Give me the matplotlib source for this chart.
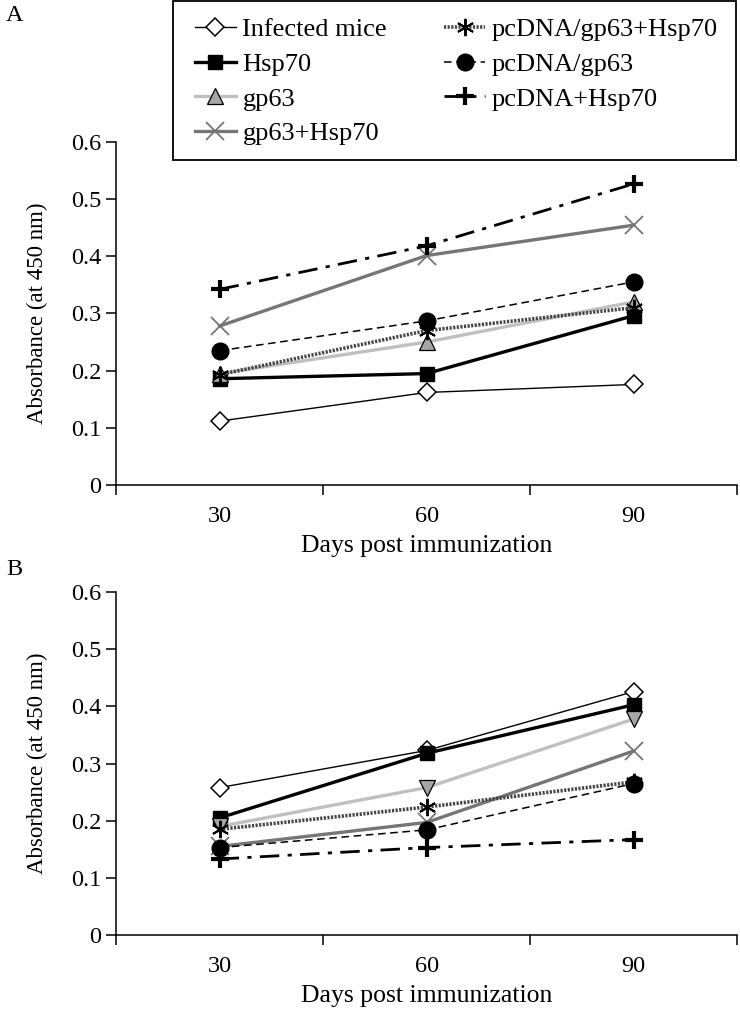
import matplotlib
matplotlib.use("Agg")
import matplotlib.pyplot as plt
from matplotlib.patches import Rectangle

plt.rcParams['font.family'] = ['Liberation Serif', 'DejaVu Serif']

days = ['30', '60', '90']
series_names = ['Infected mice', 'Hsp70', 'gp63', 'gp63+Hsp70',
                'pcDNA/gp63+Hsp70', 'pcDNA/gp63', 'pcDNA+Hsp70']

# panel A values (absorbance at 450 nm)
a_infected = [0.112, 0.162, 0.176]
a_hsp70 = [0.186, 0.195, 0.296]
a_gp63 = [0.195, 0.250, 0.320]
a_gp63_hsp70 = [0.278, 0.401, 0.454]
a_pc_gp63_hsp70 = [0.193, 0.270, 0.310]
a_pc_gp63 = [0.235, 0.287, 0.355]
a_pc_hsp70 = [0.342, 0.418, 0.526]

# panel B values
b_infected = [0.258, 0.323, 0.426]
b_hsp70 = [0.205, 0.318, 0.403]
b_gp63 = [0.190, 0.258, 0.378]
b_gp63_hsp70 = [0.155, 0.197, 0.322]
b_pc_gp63_hsp70 = [0.185, 0.224, 0.268]
b_pc_gp63 = [0.153, 0.184, 0.265]
b_pc_hsp70 = [0.133, 0.153, 0.167]

yticks = [0, 0.1, 0.2, 0.3, 0.4, 0.5, 0.6]
ytick_labels = ['0', '0.1', '0.2', '0.3', '0.4', '0.5', '0.6']

TICK_FS = 17.5
XLAB_FS = 18.5
YLAB_FS = 16.5
LEG_FS = 19


def styles(tri_marker):
    return [
        dict(color='black', lw=1.0, marker='D', ms=9.5, mfc='white', mec='black', mew=1.1),
        dict(color='black', lw=2.4, marker='s', ms=10.5, mfc='black', mec='black'),
        dict(color='#c0c0c0', lw=2.4, marker=tri_marker, ms=12, mfc='#a6a6a6', mec='black', mew=0.9),
        dict(color='#767676', lw=2.4, marker='x', ms=13, mec='#767676', mew=1.3),
        dict(color='#444444', lw=2.6, ls=(0, (0.6, 0.4)), marker=(6, 2, 0), ms=12.5, mec='black', mew=1.4),
        dict(color='black', lw=1.1, ls=(0, (5, 3)), marker='o', ms=12, mfc='black', mec='black'),
        dict(color='black', lw=2.0, ls=(0, (7, 3, 1.5, 3)), marker='+', ms=12.5, mec='black', mew=3.0),
    ]


def draw(ax, data, tri_marker):
    x = range(len(days))
    lines = []
    for vals, name, st in zip(data, series_names, styles(tri_marker)):
        ln, = ax.plot(x, vals, label=name, **st)
        lines.append(ln)
    ax.set_xlim(-0.5, 2.5)
    ax.set_ylim(0, 0.6)
    ax.set_yticks(yticks)
    ax.set_yticklabels(ytick_labels, fontsize=TICK_FS)
    ax.set_xticks([-0.5, 0.5, 1.5, 2.5])
    ax.set_xticklabels([])
    ax.set_xticks([0, 1, 2], minor=True)
    ax.set_xticklabels(days, minor=True, fontsize=TICK_FS)
    ax.tick_params(axis='x', which='minor', length=0, pad=15)
    ax.tick_params(axis='both', which='major', direction='out', length=7, width=1.1)
    ax.spines['top'].set_visible(False)
    ax.spines['right'].set_visible(False)
    ax.spines['left'].set_linewidth(1.1)
    ax.spines['bottom'].set_linewidth(1.1)
    ax.set_xlabel('Days post immunization', fontsize=XLAB_FS, labelpad=6)
    ax.set_ylabel('Absorbance (at 450 nm)', fontsize=YLAB_FS, labelpad=17)
    for ln in lines:
        ln.set_clip_on(False)
    return lines


W, H = 740, 1011
fig = plt.figure(figsize=(W / 100, H / 100), dpi=100)
ax_a = fig.add_axes([0.157, 0.520, 0.839, 0.340])
ax_b = fig.add_axes([0.157, 0.0752, 0.839, 0.339])

handles = draw(ax_a, [a_infected, a_hsp70, a_gp63, a_gp63_hsp70,
                      a_pc_gp63_hsp70, a_pc_gp63, a_pc_hsp70], '^')
draw(ax_b, [b_infected, b_hsp70, b_gp63, b_gp63_hsp70,
            b_pc_gp63_hsp70, b_pc_gp63, b_pc_hsp70], 'v')

# legend box drawn separately so the padding can differ horizontally/vertically
fig.patches.append(Rectangle((173 / W, 1 - 160 / H), (736 - 173) / W, 159 / H,
                             transform=fig.transFigure, fill=False,
                             ec='black', lw=1.3, zorder=4))
leg = fig.legend(handles=handles, loc='upper left', ncol=2,
                 bbox_to_anchor=(195 / W, 1 - 18 / H, (718 - 195) / W, 0.0),
                 mode='expand', borderaxespad=0, borderpad=0,
                 fontsize=LEG_FS, frameon=False,
                 handlelength=1.55, handletextpad=0.25, labelspacing=0.42)
leg.set_zorder(5)

fig.text(0.008, 0.995, 'A', fontsize=TICK_FS, va='top', ha='left')
fig.text(0.008, 0.447, 'B', fontsize=TICK_FS, va='top', ha='left')

fig.savefig('out.png', dpi=100)
